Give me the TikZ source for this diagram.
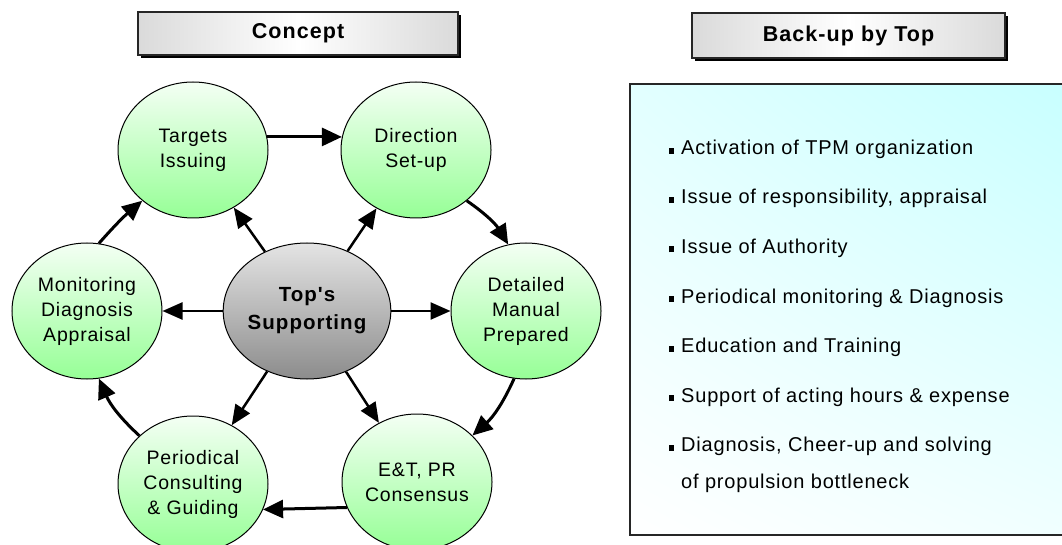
\documentclass[tikz,border=0pt]{standalone}
\usepackage{fontspec}
\setmainfont{Liberation Sans}
\newfontfamily\lsf[LetterSpace=4]{Liberation Sans}
\newfontfamily\lsfb[LetterSpace=5]{Liberation Sans Bold}
\usetikzlibrary{arrows.meta,shapes.geometric,shadows,shadings}
\definecolor{gtop}{RGB}{244,255,244}
\definecolor{gbot}{RGB}{150,255,150}
\definecolor{stop}{RGB}{228,228,228}
\definecolor{sbot}{RGB}{140,140,140}
\definecolor{cyanA}{RGB}{200,255,255}
\definecolor{cyanB}{RGB}{226,255,255}
\definecolor{cyanC}{RGB}{240,255,255}
\definecolor{hgray}{RGB}{218,218,218}
\tikzset{
  circ/.style={ellipse, draw=black, line width=1pt, minimum width=150pt,
    minimum height=136pt, inner sep=0pt, top color=gtop, bottom color=gbot,
    align=center, font={\lsf\fontsize{19.5}{25}\selectfont}},
  hub/.style={circ, top color=stop, bottom color=sbot,
    font={\lsfb\fontsize{20.5}{28}\selectfont}},
  hdr/.style={rectangle, draw=black!85, line width=1.5pt, inner sep=0pt,
    left color=hgray, right color=hgray, middle color=white,
    font={\lsfb\fontsize{21.5}{24}\selectfont},
    drop shadow={shadow xshift=3pt, shadow yshift=-3pt, fill=black, opacity=1}},
  cyc/.style={line width=3pt, -{Triangle[length=20pt,width=18pt]}},
  rad/.style={line width=2.5pt, -{Triangle[length=20pt,width=17pt]}},
  bul/.style={anchor=base west, inner sep=0pt, font={\lsf\fontsize{20}{22}\selectfont}}
}
\newcommand{\sq}{\rule[1pt]{5pt}{6pt}\hspace{7pt}}
\begin{document}
\begin{tikzpicture}[x=1pt,y=-1pt]
\useasboundingbox (0,0) rectangle (1062,545);
% headers
\node[hdr, minimum width=320pt, minimum height=43pt] (hc) at (298,33.5) {Concept};
\node[hdr, minimum width=313pt, minimum height=45pt] (hb) at (848.5,35.5) {Back-up by Top};
% right panel
\shade[upper right=cyanA, upper left=cyanB, lower right=cyanC, lower left=white]
  (630,84) rectangle (1066,535);
\draw[line width=1.5pt, draw=black!85] (630,84) rectangle (1066,535);
% bullets
\node[bul] (b1) at (669,155) {\sq Activation of TPM organization};
\node[bul] (b2) at (669,204) {\sq Issue of responsibility, appraisal};
\node[bul] (b3) at (669,253.5) {\sq Issue of Authority};
\node[bul] (b4) at (669,303) {\sq Periodical monitoring \& Diagnosis};
\node[bul] (b5) at (669,352.5) {\sq Education and Training};
\node[bul] (b6) at (669,402) {\sq Support of acting hours \& expense};
\node[bul] (b7) at (669,451.5) {\sq Diagnosis, Cheer-up and solving};
\node[bul] (b8) at (681,488) {of propulsion bottleneck};
% circles
\node[circ] (T) at (193,150) {Targets\\Issuing};
\node[circ] (D) at (416,150) {Direction\\Set-up};
\node[circ] (M) at (526,311) {Detailed\\Manual\\Prepared};
\node[circ] (E) at (417,482) {E\&T, PR\\Consensus};
\node[circ] (P) at (193,484) {Periodical\\Consulting\\\& Guiding};
\node[circ] (Mo) at (87,311) {Monitoring\\Diagnosis\\Appraisal};
\node[hub] (S) at (307,311) {Top's\\Supporting};
% cycle arrows
\draw[cyc] (T.10) -- (D.170);
\draw[cyc] (D.-45) to[bend left=12] (M.105);
\draw[cyc] (M.-100) to[bend left=12] (E.40);
\draw[cyc] (E.200) -- (P.340);
\draw[cyc] (P.138) to[bend left=12] (Mo.-80);
\draw[cyc] (Mo.80) to[bend left=4] (T.225);
% radial arrows
\draw[rad] (S) -- (T);
\draw[rad] (S) -- (D);
\draw[rad] (S) -- (M);
\draw[rad] (S) -- (E);
\draw[rad] (S) -- (P);
\draw[rad] (S) -- (Mo);
\end{tikzpicture}
\end{document}
